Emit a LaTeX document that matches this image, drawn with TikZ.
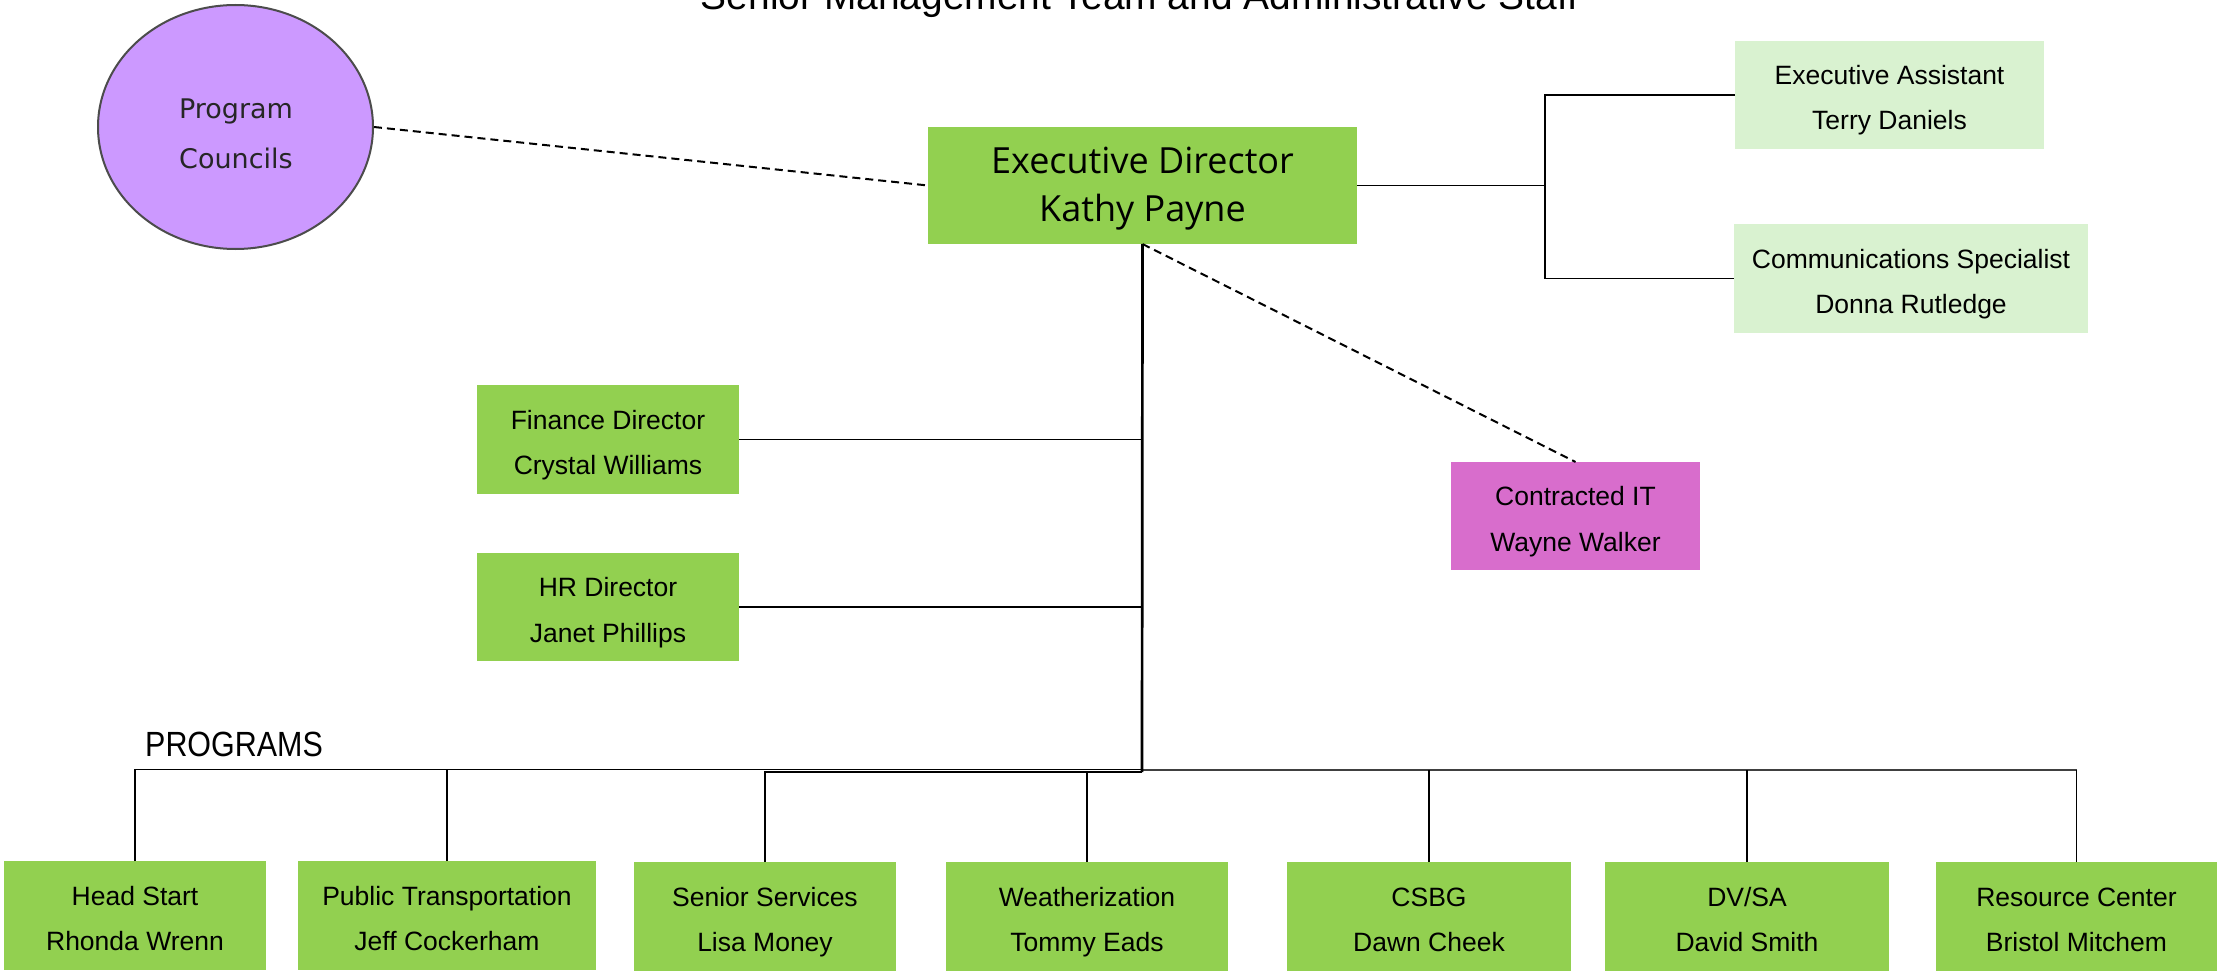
\documentclass[tikz,border=0pt]{standalone}
\usepackage{fontspec}
\setmainfont{Liberation Sans}
\newfontfamily\execfont{Open Sans}
\newfontfamily\pcfont{DejaVu Sans}
\newfontfamily\progfont{Liberation Sans}[FakeStretch=0.87]
\usetikzlibrary{shapes.geometric,calc}
\definecolor{boxgreen}{RGB}{146,208,80}
\definecolor{palegreen}{RGB}{217,242,208}
\definecolor{itpink}{RGB}{216,109,204}
\definecolor{lavender}{RGB}{204,153,255}
\tikzset{
  plainbox/.style={rectangle, inner sep=0pt, outer sep=0pt, draw=none},
  greenbox/.style={plainbox, fill=boxgreen},
  paleboxstyle/.style={plainbox, fill=palegreen},
  itbox/.style={plainbox, fill=itpink},
  boxtxt/.style={anchor=base, inner sep=0pt, font=\fontsize{26.5}{30}\selectfont},
  exectxt/.style={anchor=base, inner sep=0pt, font=\execfont\fontsize{36}{40}\selectfont},
  pctxt/.style={anchor=base, inner sep=0pt, text=black!85, font=\pcfont\fontsize{27}{30}\selectfont},
  conn/.style={line width=1.3pt, black},
  trunkline/.style={line width=2.7pt, black},
  dashconn/.style={line width=2pt, black, dash pattern=on 8pt off 5pt}
}
\newcommand\orgbox[8]{%
  \node[#6, minimum width={(#4-#2)*1pt}, minimum height={(#5-#3)*1pt}] (#1) at ({(#2+#4)/2},{(#3+#5)/2}) {};
  \node[boxtxt] (#1-a) at ($(#1.center)+(0,-10.5)$) {#7};
  \node[boxtxt] (#1-b) at ($(#1.center)+(0,35)$) {#8};
}
\begin{document}
\begin{tikzpicture}[x=1pt,y=-1pt]
\useasboundingbox (0,0) rectangle (2217,971);
\fill[white] (0,0) rectangle (2217,971);

% title
\node[anchor=base, inner sep=0pt, font=\fontsize{38.9}{42}\selectfont] (title) at (1139.5,9.3) {Senior Management Team and Administrative Staff};

% program councils
\node[ellipse, draw=black!70, line width=2pt, fill=lavender, minimum width=275pt, minimum height=244pt, inner sep=0pt] (pc) at (235.5,127) {};
\node[pctxt] (pc-a) at (236,119) {Program};
\node[pctxt] (pc-b) at (236,168.3) {Councils};

% executive director
\node[greenbox, minimum width=429pt, minimum height=117pt] (exec) at (1142.5,185.5) {};
\node[exectxt] (exec-a) at ($(exec.center)+(0,-12.5)$) {Executive Director};
\node[exectxt] (exec-b) at ($(exec.center)+(0,35.5)$) {Kathy Payne};

% staff
\orgbox{ea}{1735}{41}{2044}{149}{paleboxstyle}{Executive Assistant}{Terry Daniels}
\orgbox{cs}{1734}{224}{2088}{333}{paleboxstyle}{Communications Specialist}{Donna Rutledge}
\orgbox{it}{1451}{462}{1700}{570}{itbox}{Contracted IT}{Wayne Walker}
\orgbox{fin}{477}{385}{739}{494}{greenbox}{Finance Director}{Crystal Williams}
\orgbox{hr}{477}{553}{739}{661}{greenbox}{HR Director}{Janet Phillips}

% programs
\node[anchor=base west, inner sep=0pt, font=\progfont\fontsize{35}{38}\selectfont] (proglabel) at (145,756.7) {PROGRAMS};
\orgbox{hs}{4}{861}{266}{970}{greenbox}{Head Start}{Rhonda Wrenn}
\orgbox{pt}{298}{861}{596}{970}{greenbox}{Public Transportation}{Jeff Cockerham}
\orgbox{ss}{634}{862}{896}{971}{greenbox}{Senior Services}{Lisa Money}
\orgbox{wz}{946}{862}{1228}{971}{greenbox}{Weatherization}{Tommy Eads}
\orgbox{csbg}{1287}{862}{1571}{971}{greenbox}{CSBG}{Dawn Cheek}
\orgbox{dvsa}{1605}{862}{1889}{971}{greenbox}{DV/SA}{David Smith}
\orgbox{rc}{1936}{862}{2217}{971}{greenbox}{Resource Center}{Bristol Mitchem}

% connectors
\coordinate (busL) at (1142,769.5);
\coordinate (busS) at (1142,772);
\coordinate (elbow) at (1545,185.5);

\draw[dashconn] (pc.east) -- (exec.west);
\draw[dashconn] (exec.south) -- (it.north);

\draw[conn] (exec.east) -- (elbow);
\draw[conn] (ea.west) -| (elbow) |- (cs.west);

\draw[conn] (fin.east) -- (fin.east -| exec.south);
\draw[conn] (hr.east) -- (hr.east -| exec.south);

\draw[conn] (hs.north) |- (busL);
\draw[conn] (pt.north) -- (pt.north |- busL);
\draw[conn] (ss.north) |- (busS);
\draw[conn] (wz.north) -- (wz.north |- busS);
\draw[line width=2pt, black!75] (busL) -- (busL -| rc.north);
\draw[conn] (rc.north) -- (rc.north |- busL);
\draw[conn] (csbg.north) -- (csbg.north |- busL);
\draw[conn] (dvsa.north) -- (dvsa.north |- busL);

\draw[trunkline] (exec.south) -- (busS);
\end{tikzpicture}
\end{document}
